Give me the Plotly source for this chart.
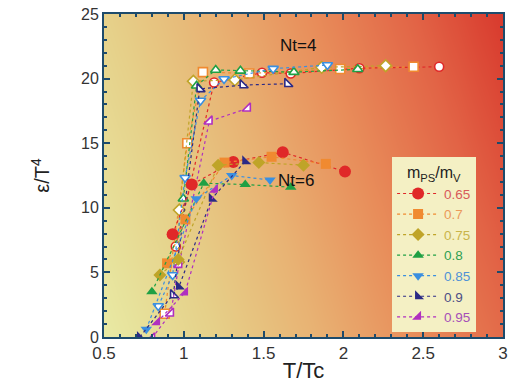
import numpy as np
import plotly.graph_objects as go

# ---------------- data ----------------
ratios = ["0.65", "0.7", "0.75", "0.8", "0.85", "0.9", "0.95"]
colors = ["#e02828", "#f08a30", "#bfa428", "#1fa044", "#3a8fe0", "#2b2a86", "#b02fc0"]
text_colors = ["#d85a5a", "#eb9a5a", "#c9b44a", "#2fa052", "#4f92d6", "#4e4e86", "#a54fb8"]
symbols = ["circle", "square", "diamond", "triangle-up", "triangle-down", "triangle-sw", "triangle-se"]

# Nt=6 (filled markers)
nt6_x = [
    [0.93, 1.05, 1.31, 1.62, 2.01],
    [0.895, 1.01, 1.255, 1.55, 1.89],
    [0.85, 0.965, 1.215, 1.47, 1.75],
    [0.80, 1.125, 1.385, 1.67],
    [0.765, 1.078, 1.30, 1.54],
    [0.725, 0.97, 1.175, 1.385],
    [0.833, 1.008, 1.195],
]
nt6_y = [
    [7.95, 11.8, 13.55, 14.3, 12.8],
    [5.7, 9.1, 13.5, 13.95, 13.4],
    [4.8, 6.0, 13.3, 13.5, 13.3],
    [3.5, 11.9, 11.8, 11.6],
    [0.6, 10.7, 12.5, 12.15],
    [0.0, 3.9, 10.7, 13.6],
    [1.15, 3.45, 11.4],
]

# Nt=4 (open markers)
nt4_x = [
    [0.95, 1.19, 1.49, 1.67, 2.10, 2.60],
    [0.88, 1.022, 1.12, 1.41, 1.98, 2.44],
    [0.966, 0.972, 1.06, 1.32, 1.864, 2.265],
    [0.997, 1.08, 1.20, 1.355, 1.69, 2.09],
    [0.84, 0.93, 1.008, 1.105, 1.252, 1.56, 1.90],
    [0.934, 1.10, 1.37, 1.65],
    [0.80, 0.918, 0.97, 1.16, 1.40],
]
nt4_y = [
    [7.0, 19.7, 20.45, 20.4, 20.8, 20.92],
    [1.8, 15.0, 20.5, 20.4, 20.74, 20.92],
    [5.8, 9.83, 19.8, 19.9, 20.87, 21.0],
    [10.7, 19.45, 20.67, 20.6, 20.5, 20.72],
    [2.4, 4.8, 12.33, 18.3, 19.97, 20.77, 21.05],
    [3.25, 19.2, 19.5, 19.6],
    [-0.1, 1.83, 5.6, 16.7, 17.7],
]

x_range = [0.5, 3.0]
y_range = [0, 25]
x_ticks = [0.5, 1, 1.5, 2, 2.5, 3]
x_ticktext = ["0.5", "1", "1.5", "2", "2.5", "3"]
y_ticks = [0, 5, 10, 15, 20, 25]

# ---------------- figure ----------------
fig = go.Figure()

# gradient background (extends a little beyond the axis ranges, clipped by the axes)
gx = np.linspace(0.4, 3.1, 70)
gy = np.linspace(-1.0, 26.0, 30)
XX, YY = np.meshgrid((gx - 0.5) / 2.5, (gy - 0.0) / 25.0)
ZZ = 0.82 * XX + 0.22 * YY
fig.add_trace(go.Heatmap(
    x=gx, y=gy, z=ZZ, zsmooth="best", showscale=False, hoverinfo="skip",
    colorscale=[[0.0, "#e8eaa4"], [0.22, "#e6d089"], [0.42, "#e8b273"],
                [0.62, "#e88d5a"], [0.82, "#e26446"], [1.0, "#d8392d"]],
    zmin=0, zmax=1.04,
))

for i, r in enumerate(ratios):
    fig.add_trace(go.Scatter(
        x=nt4_x[i], y=nt4_y[i], mode="lines+markers", showlegend=False,
        line=dict(color=colors[i], width=1.2, dash="3px,3px"),
        marker=dict(symbol=symbols[i], size=9, color="white",
                    line=dict(color=colors[i], width=1.6)),
    ))

for i, r in enumerate(ratios):
    fig.add_trace(go.Scatter(
        x=nt6_x[i], y=nt6_y[i], mode="lines+markers",
        name=f"<span style='color:{text_colors[i]}'>{r}</span>",
        line=dict(color=colors[i], width=1.2, dash="3px,3px"),
        marker=dict(symbol=symbols[i], size=12 if i == 0 else 10, color=colors[i],
                    line=dict(width=0)),
    ))

fig.add_annotation(x=1.716, y=22.6, text="Nt=4", showarrow=False,
                   font=dict(size=17, color="#111"))
fig.add_annotation(x=1.70, y=12.1, text="Nt=6", showarrow=False,
                   font=dict(size=17, color="#111"))

axis_common = dict(
    showline=True, linecolor="#1d4b6c", linewidth=2, mirror="ticks",
    ticks="inside", ticklen=6, tickwidth=1.5, tickcolor="#1d4b6c",
    showgrid=False, zeroline=False, automargin=False,
    ticklabeloverflow="allow",
)

fig.update_xaxes(range=x_range, tickvals=x_ticks, ticktext=x_ticktext,
                 tickfont=dict(size=17, color="#333"),
                 title=dict(text="T/Tc", font=dict(size=22, color="#222"), standoff=0),
                 minor=dict(dtick=0.1, ticks="inside", ticklen=3, tickcolor="#1d4b6c"),
                 **axis_common)
fig.update_yaxes(range=y_range, tickvals=y_ticks,
                 tickfont=dict(size=16, color="#333"),
                 title=dict(text="ε/T<sup>4</sup>", font=dict(size=20, color="#222"), standoff=26),
                 minor=dict(dtick=1, ticks="inside", ticklen=3, tickcolor="#1d4b6c"),
                 **axis_common)

fig.update_layout(
    width=512, height=388,
    margin=dict(l=104, r=9, t=14, b=51),
    paper_bgcolor="white", plot_bgcolor="white",
    font=dict(family="Liberation Sans, Arial, sans-serif"),
    legend=dict(
        x=0.722, y=0.556, xanchor="left", yanchor="top",
        bgcolor="#f4f0c4", borderwidth=0,
        title=dict(text="m<sub>PS</sub>/m<sub>V</sub>", side="top center",
                   font=dict(size=16, color="#222")),
        font=dict(size=13.5), itemwidth=42, tracegroupgap=0,
    ),
)

# remove the default page margin so the 512x388 figure fills the window exactly
fig.write_html("out.html", config={"displayModeBar": False},
               post_script="document.body.style.margin='0';")
